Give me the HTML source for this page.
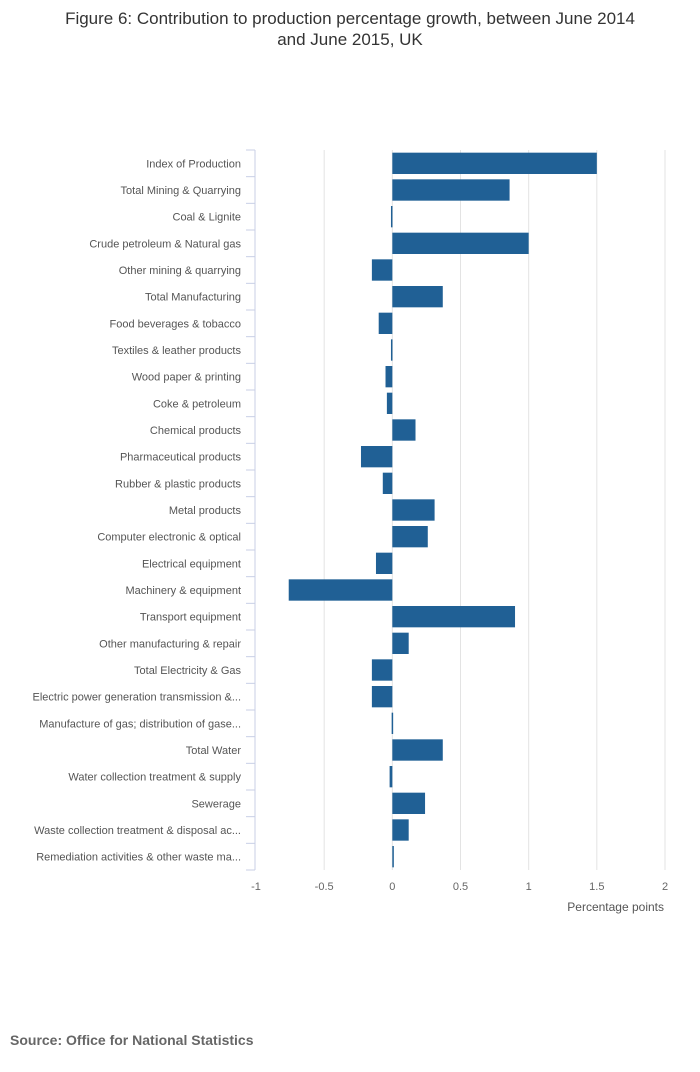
<!DOCTYPE html>
<html><head><meta charset="utf-8"><style>
body{margin:0;background:#fff;font-family:"Liberation Sans",sans-serif}
</style></head><body>
<svg id="c" width="700" height="1067" xmlns="http://www.w3.org/2000/svg">
<text x="350" y="24" text-anchor="middle" font-size="17" fill="#333">Figure 6: Contribution to production percentage growth, between June 2014</text>
<text x="350" y="45" text-anchor="middle" font-size="17" fill="#333">and June 2015, UK</text>
<text x="10" y="1045" font-size="14" font-weight="bold" fill="#666">Source: Office for National Statistics</text>
<text x="664" y="911" text-anchor="end" font-size="12" fill="#555">Percentage points</text>
<g id="g"></g>
</svg>
<script>
const categories=["Index of Production","Total Mining & Quarrying","Coal & Lignite","Crude petroleum & Natural gas","Other mining & quarrying","Total Manufacturing","Food beverages & tobacco","Textiles & leather products","Wood paper & printing","Coke & petroleum","Chemical products","Pharmaceutical products","Rubber & plastic products","Metal products","Computer electronic & optical","Electrical equipment","Machinery & equipment","Transport equipment","Other manufacturing & repair","Total Electricity & Gas","Electric power generation transmission &...","Manufacture of gas; distribution of gase...","Total Water","Water collection treatment & supply","Sewerage","Waste collection treatment & disposal ac...","Remediation activities & other waste ma..."];
const values=[1.5,0.86,-0.01,1.0,-0.15,0.37,-0.1,-0.01,-0.05,-0.04,0.17,-0.23,-0.07,0.31,0.26,-0.12,-0.76,0.9,0.12,-0.15,-0.15,-0.005,0.37,-0.02,0.24,0.12,0.01];
const ticks=[-1,-0.5,0,0.5,1,1.5,2];
const NS="http://www.w3.org/2000/svg";
const g=document.getElementById('g');
const x0=256,x1=665,plotTop=150,plotBot=870;
const xs=v=>x0+(v-(-1))/3*(x1-x0);
const band=(plotBot-plotTop)/categories.length;
function mk(t,a){const e=document.createElementNS(NS,t);for(const k in a)e.setAttribute(k,a[k]);g.appendChild(e);return e;}
ticks.forEach(t=>{
 if(t!==-1){const l=mk('line',{x1:xs(t),x2:xs(t),y1:plotTop,y2:plotBot,stroke:'#e3e3e3','stroke-width':1});
 
 }
 const tx=mk('text',{x:xs(t),y:plotBot+20,'text-anchor':'middle','font-size':11,fill:'#666'});tx.textContent=t;
 
 
});
const ax=mk('line',{x1:x0-1,x2:x0-1,y1:plotTop,y2:plotBot,stroke:'#c8cfe6'});


for(let i=0;i<=categories.length;i++){const y=plotTop+i*band;const tk=mk('line',{x1:x0-10,x2:x0-1,y1:y,y2:y,stroke:'#c8cfe6'});
 
 }
categories.forEach((c,i)=>{
 const cy=plotTop+(i+0.5)*band;
 const t=mk('text',{x:241,y:cy+4,'text-anchor':'end','font-size':11,fill:'#555'});t.textContent=c;
 
 
 const v=values[i];let a=xs(0),b=xs(v);let w=Math.abs(b-a);if(w<1.5)w=1.5;
 const r=mk('rect',{x:Math.min(a,b),y:cy-band*0.4,width:w,height:band*0.8,fill:'#206095'});
 
 
});
</script>
</body></html>
